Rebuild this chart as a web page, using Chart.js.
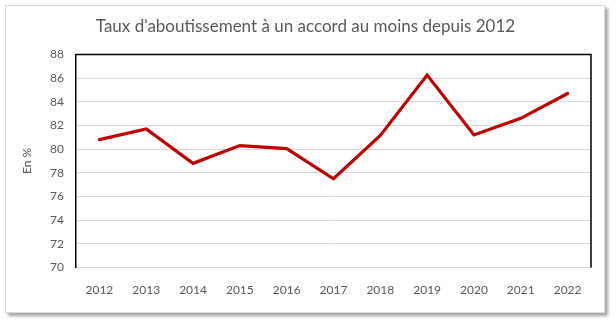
<!DOCTYPE html>
<html>
<head>
<meta charset="utf-8">
<script src="https://cdn.jsdelivr.net/npm/chart.js@4.4.1/dist/chart.umd.min.js"></script>
<style>
    html, body { margin: 0; padding: 0; background: #fff; }
    #frame {
        position: absolute; left: 5px; top: 5px;
        width: 598px; height: 306px;
        border: 1px solid #d9d9d9;
        box-shadow: 3px 3px 3px rgba(0, 0, 0, 0.35);
        background: #fff;
    }
    canvas { display: block; }
</style>
</head>
<body>
<div id="frame"><canvas id="chart" width="598" height="306"></canvas></div>
<script>
// Data
const years = ['2012', '2013', '2014', '2015', '2016', '2017', '2018', '2019', '2020', '2021', '2022'];
const tauxAccord = [80.8, 81.7, 78.8, 80.3, 80.05, 77.5, 81.15, 86.25, 81.2, 82.6, 84.7];
const yTicks = [70, 72, 74, 76, 78, 80, 82, 84, 86, 88];

const chartTitle = "Taux d'aboutissement à un accord au moins depuis 2012";
const yTitle = 'En %';

const fontFamily = 'Lato, "Open Sans", sans-serif';
const textColor = '#595959';

// black frame on top and right of the plot area (left comes from the y axis border)
const plotFrame = {
    id: 'plotFrame',
    afterDraw(chart) {
        const { ctx, chartArea: a } = chart;
        ctx.save();
        ctx.strokeStyle = '#000';
        ctx.lineWidth = 1.5;
        ctx.beginPath();
        ctx.moveTo(a.left, a.top);
        ctx.lineTo(a.right, a.top);
        ctx.lineTo(a.right, a.bottom);
        ctx.stroke();
        ctx.restore();
    }
};

new Chart(document.getElementById('chart').getContext('2d'), {
    type: 'line',
    data: {
        labels: years,
        datasets: [{
            label: 'Taux',
            data: tauxAccord,
            borderColor: '#c00000',
            borderWidth: 3.2,
            pointRadius: 0,
            tension: 0,
            borderJoinStyle: 'miter',
            borderCapStyle: 'round'
        }]
    },
    options: {
        responsive: false,
        animation: false,
        layout: { padding: { left: 14, right: 13, top: 0, bottom: 0 } },
        plugins: {
            legend: { display: false },
            tooltip: { enabled: false },
            title: {
                display: true,
                text: chartTitle,
                color: textColor,
                font: { family: fontFamily, size: 17, weight: 'normal' },
                padding: { top: 10, bottom: 18 }
            }
        },
        scales: {
            x: {
                offset: true,
                grid: { display: false, drawTicks: false },
                border: { color: '#d9d9d9', width: 1 },
                ticks: {
                    color: textColor,
                    padding: 15,
                    maxRotation: 0,
                    font: { family: fontFamily, size: 12 }
                }
            },
            y: {
                min: 70,
                max: 88,
                afterBuildTicks: (scale) => { scale.ticks = yTicks.map(v => ({ value: v })); },
                afterFit: (scale) => { scale.width = 56; },
                grid: { color: '#d9d9d9', drawTicks: false },
                border: { color: '#000', width: 1.5 },
                title: {
                    display: true,
                    text: yTitle,
                    color: textColor,
                    padding: 0,
                    font: { family: fontFamily, size: 12 }
                },
                ticks: {
                    color: textColor,
                    padding: 12,
                    font: { family: fontFamily, size: 12 }
                }
            }
        }
    },
    plugins: [plotFrame]
});
</script>
</body>
</html>
